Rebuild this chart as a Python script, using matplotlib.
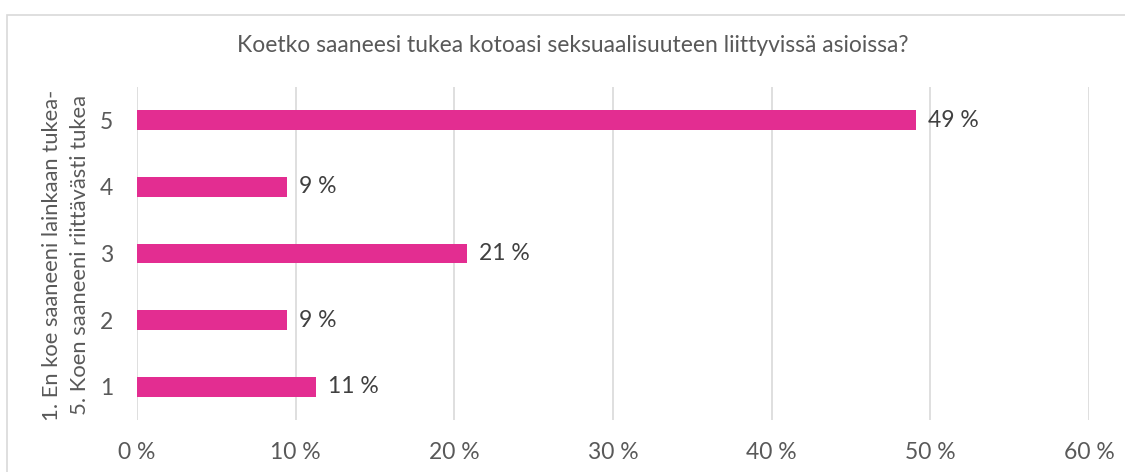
import matplotlib.pyplot as plt
from matplotlib.patches import Rectangle

categories = ["1", "2", "3", "4", "5"]
values = [11.3, 9.45, 20.8, 9.45, 49.1]
x_ticks = [0, 10, 20, 30, 40, 50, 60]

title = "Koetko saaneesi tukea kotoasi seksuaalisuuteen liittyvissä asioissa?"
y_label = "1. En koe saaneeni lainkaan tukea-\n5. Koen saaneeni riittävästi tukea"

plt.rcParams['font.family'] = ['Lato', 'DejaVu Sans']
fs = 16.5

fig = plt.figure(figsize=(11.25, 4.72), dpi=100)
fig.patches.append(Rectangle((7 / 1125, -0.1), 1.2, 1 - 15 / 472 + 0.1,
                             transform=fig.transFigure, fill=False,
                             edgecolor='#D9D9D9', linewidth=1.2))

ax = fig.add_axes([137 / 1125, 1 - 420 / 472, (1089 - 137) / 1125, 333 / 472])
pos = list(range(len(categories)))
ax.barh(pos, values, height=0.3, color='#E32D91', zorder=3)
for p, v in zip(pos, values):
    ax.text(v + 0.75, p, f"{round(v)} %", va='center', ha='left',
            fontsize=fs, color='#404040')

ax.set_xlim(0, 60)
ax.set_ylim(-0.5, 4.5)
ax.set_xticks(x_ticks)
ax.set_xticklabels([f"{t} %" for t in x_ticks], fontsize=fs, color='#595959')
ax.set_yticks(pos)
ax.set_yticklabels(categories, fontsize=fs, color='#595959')
ax.tick_params(length=0)
ax.tick_params(axis='y', pad=17)
ax.tick_params(axis='x', pad=16)
ax.grid(axis='x', color='#D9D9D9', linewidth=1.2, zorder=0)
for s in ax.spines.values():
    s.set_visible(False)

fig.text(573 / 1125, 1 - 46 / 472, title, ha='center', va='center', fontsize=fs, color='#595959')
fig.text(66 / 1125, 1 - 255 / 472, y_label, ha='center', va='center', rotation=90,
         fontsize=15.8, color='#595959', linespacing=1.5)

fig.savefig("out.png", dpi=100)
